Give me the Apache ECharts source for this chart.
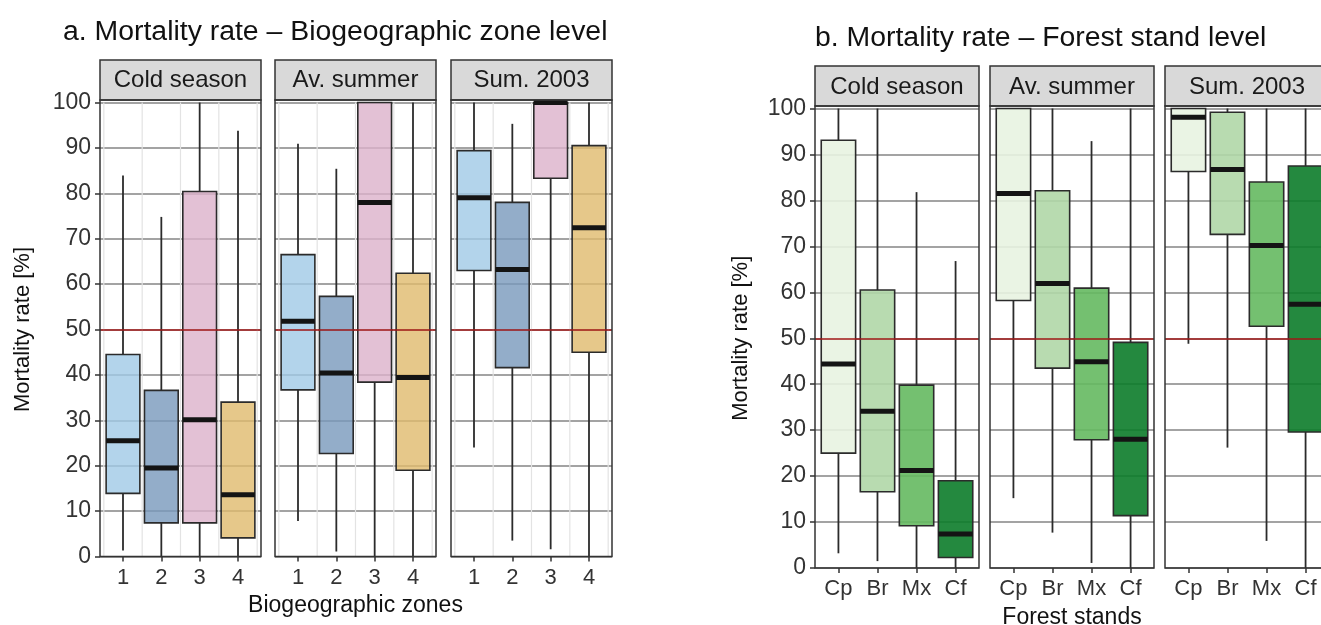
<!DOCTYPE html>
<html>
<head>
<meta charset="utf-8">
<script src="https://cdn.jsdelivr.net/npm/echarts@6/dist/echarts.min.js"></script>
<style>
html,body{margin:0;padding:0;background:#fff;}
#chart{width:1321px;height:625px;}
</style>
</head>
<body>
<div id="chart"></div>
<script>
// ---------------- data ----------------
const zoneCategories = ['1', '2', '3', '4'];
const standCategories = ['Cp', 'Br', 'Mx', 'Cf'];
const seasonLabels = ['Cold season', 'Av. summer', 'Sum. 2003'];
const yTickValues = [0, 10, 20, 30, 40, 50, 60, 70, 80, 90, 100];
const threshold = 50;

// each box: [min, Q1, median, Q3, max]  (mortality rate, %)
const zoneColdSeason = [
  [1.3, 13.9, 25.5, 44.5, 83.9],
  [0, 7.4, 19.5, 36.6, 74.8],
  [0, 7.4, 30.1, 80.4, 100],
  [0, 4.1, 13.6, 34.0, 93.8]
];
const zoneAvSummer = [
  [7.8, 36.7, 51.8, 66.5, 90.9],
  [1.1, 22.7, 40.4, 57.3, 85.4],
  [0, 38.4, 78.0, 100, 100],
  [0, 19.0, 39.4, 62.4, 100]
];
const zoneSum2003 = [
  [24.0, 63.0, 79.0, 89.4, 100],
  [3.5, 41.6, 63.2, 78.0, 95.3],
  [1.6, 83.3, 100, 100, 100],
  [0, 45.0, 72.4, 90.5, 100]
];
const standColdSeason = [
  [3.2, 25.0, 44.4, 93.1, 100],
  [1.5, 16.6, 34.1, 60.5, 100],
  [0, 9.2, 21.2, 39.8, 81.8],
  [0, 2.3, 7.4, 19.0, 66.8]
];
const standAvSummer = [
  [15.2, 58.2, 81.5, 100, 100],
  [7.7, 43.5, 61.9, 82.1, 100],
  [1.1, 27.9, 44.9, 60.9, 92.9],
  [0, 11.4, 28.0, 49.1, 100]
];
const standSum2003 = [
  [48.8, 86.3, 98.1, 100, 100],
  [26.2, 72.6, 86.7, 99.2, 100],
  [5.9, 52.6, 70.2, 84.0, 100],
  [0, 29.6, 57.4, 87.5, 100]
];

// ---------------- styling / layout ----------------
const FONT = 'Liberation Sans';
const zoneFills = ['rgba(160,201,230,0.8)', 'rgba(120,152,187,0.8)', 'rgba(220,177,202,0.8)', 'rgba(224,186,109,0.8)'];
const standFills = ['rgba(232,243,225,0.9)', 'rgba(176,215,167,0.9)', 'rgba(101,185,96,0.9)', 'rgba(12,124,42,0.9)'];

const panels = [
  {
    title: 'a. Mortality rate \u2013 Biogeographic zone level', titleX: 63, titleY: 32,
    lefts: [100, 275, 451], width: 161, top: 102.5, height: 454, borderTop: 100,
    stripTop: 60, stripTextY: 80,
    cats: zoneCategories, boxes: [zoneColdSeason, zoneAvSummer, zoneSum2003],
    fills: zoneFills, minorV: true, xName: 'Biogeographic zones', xNameGap: 38, yNameGap: 66
  },
  {
    title: 'b. Mortality rate \u2013 Forest stand level', titleX: 815, titleY: 38,
    lefts: [815, 990, 1165], width: 164, top: 108.5, height: 459.5, borderTop: 106,
    stripTop: 66, stripTextY: 87,
    cats: standCategories, boxes: [standColdSeason, standAvSummer, standSum2003],
    fills: standFills, minorV: false, xName: 'Forest stands', xNameGap: 38, yNameGap: 63
  }
];

const BOX_W = 0.88;
const grids = [], xAxes = [], yAxes = [], series = [], graphics = [];

panels.forEach((p, pi) => {
  graphics.push({
    type: 'text', x: p.titleX, y: p.titleY, z: 100,
    style: { text: p.title, font: '28.4px ' + FONT, fill: '#111', verticalAlign: 'middle', align: 'left' }
  });
  p.lefts.forEach((left, fi) => {
    const k = grids.length;
    grids.push({ left: left, top: p.top, width: p.width, height: p.height, containLabel: false, outerBoundsMode: 'none', show: false });
    const cats = p.cats;
    xAxes.push({
      type: 'value', gridIndex: k, min: 0.4, max: cats.length + 0.6,
      axisLine: { show: false },
      axisTick: { show: true, length: 5, customValues: cats.map((c, i) => i + 1), lineStyle: { color: '#333', width: 1.5 } },
      axisLabel: {
        show: true, customValues: cats.map((c, i) => i + 1), margin: 10,
        fontSize: 22, fontFamily: FONT, color: '#333',
        formatter: v => cats[Math.round(v) - 1] || ''
      },
      splitLine: { show: false },
      name: fi === 1 ? p.xName : '', nameLocation: 'middle', nameGap: p.xNameGap,
      nameTextStyle: { fontSize: 23, fontFamily: FONT, color: '#111' }
    });
    yAxes.push({
      type: 'value', gridIndex: k, min: 0, max: 100, interval: 10,
      axisLine: { show: false },
      axisTick: { show: fi === 0, length: 5, lineStyle: { color: '#333', width: 1.5 } },
      axisLabel: { show: fi === 0, margin: 9, fontSize: 23, fontFamily: FONT, color: '#333' },
      splitLine: { show: true, lineStyle: { color: '#858585', width: 1.6 } },
      name: fi === 0 ? 'Mortality rate [%]' : '', nameLocation: 'middle', nameGap: p.yNameGap, nameRotate: 90,
      nameTextStyle: { fontSize: 22, fontFamily: FONT, color: '#111' }
    });

    // light vertical grid lines between categories (panel a only)
    if (p.minorV) {
      const mv = [];
      for (let i = 0; i <= cats.length; i++) mv.push([i + 0.5, 0]);
      series.push({
        type: 'custom', xAxisIndex: k, yAxisIndex: k, z: 1, silent: true, animation: false,
        data: mv, encode: { x: 0, y: 1 },
        renderItem: (params, api) => {
          const cs = params.coordSys;
          const px = api.coord([api.value(0), 0])[0];
          return { type: 'line', shape: { x1: px, y1: cs.y, x2: px, y2: cs.y + cs.height },
            style: { stroke: '#e3e3e3', lineWidth: 1.2 } };
        }
      });
    }

    const fills = p.fills;
    series.push({
      type: 'custom', xAxisIndex: k, yAxisIndex: k, z: 3, silent: true, animation: false,
      data: p.boxes[fi].map((b, i) => [i + 1].concat(b)),
      encode: { x: 0, y: [1, 2, 3, 4, 5] },
      renderItem: (params, api) => {
        const x = api.value(0);
        const pMin = api.coord([x, api.value(1)]);
        const pQ1 = api.coord([x, api.value(2)]);
        const pMed = api.coord([x, api.value(3)]);
        const pQ3 = api.coord([x, api.value(4)]);
        const pMax = api.coord([x, api.value(5)]);
        const hw = api.size([BOX_W, 0])[0] / 2;
        const cx = pMed[0];
        const wStyle = { stroke: '#2b2b2b', lineWidth: 1.8 };
        return {
          type: 'group',
          children: [
            { type: 'line', shape: { x1: cx, y1: pQ3[1], x2: cx, y2: pMax[1] }, style: wStyle },
            { type: 'line', shape: { x1: cx, y1: pQ1[1], x2: cx, y2: pMin[1] }, style: wStyle },
            { type: 'rect', shape: { x: cx - hw, y: pQ3[1], width: 2 * hw, height: pQ1[1] - pQ3[1] },
              style: { fill: fills[params.dataIndex], stroke: '#2b2b2b', lineWidth: 1.6 } },
            { type: 'line', shape: { x1: cx - hw, y1: pMed[1], x2: cx + hw, y2: pMed[1] },
              style: { stroke: '#141414', lineWidth: 5, lineCap: 'butt' } }
          ]
        };
      },
      markLine: {
        silent: true, symbol: ['none', 'none'], animation: false,
        label: { show: false },
        lineStyle: { color: '#a31a1a', width: 1.6, type: 'solid' },
        emphasis: { disabled: true },
        data: [{ yAxis: threshold }]
      }
    });

    // strip header
    graphics.push({
      type: 'rect', z: 50,
      shape: { x: left, y: p.stripTop, width: p.width, height: p.borderTop - p.stripTop },
      style: { fill: '#d9d9d9', stroke: '#333', lineWidth: 1.5 }
    });
    graphics.push({
      type: 'text', z: 51, x: left + p.width / 2, y: p.stripTextY,
      style: { text: seasonLabels[fi], font: '24px ' + FONT, fill: '#1a1a1a', align: 'center', verticalAlign: 'middle' }
    });
    // panel border
    graphics.push({
      type: 'rect', z: 60,
      shape: { x: left, y: p.borderTop, width: p.width, height: p.top + p.height - p.borderTop },
      style: { fill: 'none', stroke: '#333', lineWidth: 1.5 }
    });
  });
});

const chart = echarts.init(document.getElementById('chart'), null, { renderer: 'canvas' });
chart.setOption({
  backgroundColor: '#ffffff',
  animation: false,
  grid: grids,
  xAxis: xAxes,
  yAxis: yAxes,
  series: series,
  graphic: graphics
});
</script>
</body>
</html>
